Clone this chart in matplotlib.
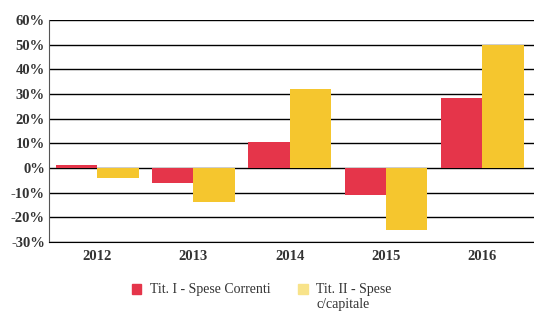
import matplotlib.pyplot as plt
import matplotlib.patches as mp
import numpy as np

years = ['2012', '2013', '2014', '2015', '2016']
spese_correnti = [1.0, -6.0, 10.5, -11.0, 28.5]
spese_capitale = [-4.0, -14.0, 32.0, -25.0, 50.0]
yticks = [-30, -20, -10, 0, 10, 20, 30, 40, 50, 60]

red = '#E5354A'
yellow = '#F5C62E'

plt.rcParams['font.family'] = ['Liberation Serif', 'DejaVu Serif']

fig = plt.figure(figsize=(5.34, 3.11), dpi=100)
ax = fig.add_axes([0.092, 0.222, 0.91, 0.714])

x = np.arange(len(years))
w = 0.43
ax.bar(x - w / 2, spese_correnti, w, color=red, zorder=3)
ax.bar(x + w / 2, spese_capitale, w, color=yellow, zorder=3)

ax.set_ylim(-30, 60)
ax.set_xlim(-0.5, 4.55)
ax.set_yticks(yticks)
ax.set_yticklabels([str(v) + '%' for v in yticks], fontsize=10.5, fontweight='bold', color='#333333')
ax.set_xticks(x)
ax.set_xticklabels(years, fontsize=10.5, fontweight='bold', color='#333333')
ax.tick_params(axis='both', length=0)
ax.tick_params(axis='x', pad=6)
ax.tick_params(axis='y', pad=3)
ax.yaxis.grid(True, color='black', linewidth=1.0, zorder=0)
ax.set_axisbelow(True)
for s in ['top', 'right']:
    ax.spines[s].set_visible(False)
ax.spines['left'].set_color('#555555')
ax.spines['bottom'].set_color('black')

# legend: second label wraps onto a line of its own under the first
handles = [mp.Patch(color=red, label='Tit. I - Spese Correnti'),
           mp.Patch(color='#F8E38A', label='Tit. II - Spese')]
leg = fig.legend(handles=handles, loc='center', bbox_to_anchor=(0.49, 1 - 290 / 311), ncol=2,
                 frameon=False, fontsize=10, handlelength=0.7, handleheight=0.7,
                 handletextpad=0.6, columnspacing=2.0, labelcolor='#333333',
                 borderaxespad=0, borderpad=0)
fig.canvas.draw()
bb = leg.get_texts()[1].get_window_extent().transformed(fig.transFigure.inverted())
fig.text(bb.x0, bb.y0 - 0.005, 'c/capitale', fontsize=10, color='#333333', va='top', ha='left')

fig.savefig('out.png', dpi=100)
